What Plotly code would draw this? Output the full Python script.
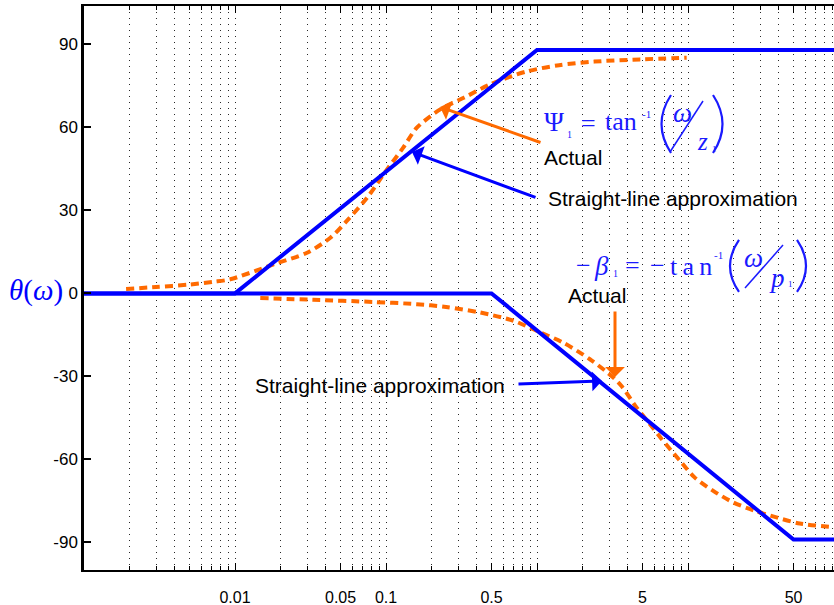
import plotly.graph_objects as go

# ---------------- data ----------------
approx_zero_w = [0.001, 0.01, 1, 100]
approx_zero_deg = [0, 0, 88, 88]
approx_pole_w = [0.001, 0.5, 50, 100]
approx_pole_deg = [0, 0, -89, -89]

actual_zero_w = [0.0019, 0.003, 0.005, 0.0072, 0.0093, 0.018, 0.030, 0.043, 0.055, 0.075,
                 0.10, 0.13, 0.16, 0.23, 0.33, 0.49, 0.85, 1.4, 2.4, 4.8, 9.8]
actual_zero_deg = [1.6, 2.3, 3.2, 4.2, 5.1, 10.5, 14.7, 20.2, 26.2, 34.6,
                   44.3, 52.7, 59.9, 66.6, 70.8, 75.6, 80.2, 82.5, 83.8, 84.6, 85.2]

actual_pole_w = [0.0147, 0.033, 0.082, 0.16, 0.25, 0.42, 0.70, 1.0, 1.49, 2.24, 3.2, 3.64,
                 4.57, 5.6, 6.7, 8.85, 11.1, 14.7, 20, 27.8, 39.7, 55, 95]
actual_pole_deg = [-1.7, -2.3, -3.1, -3.9, -4.9, -6.9, -9.9, -13.6, -17.8, -23.8, -30.4, -33.6,
                   -41.3, -47.3, -52.7, -60.5, -66.6, -71.4, -75.6, -78.6, -81.2, -83.2, -84.6]

x_tickvals = [0.01, 0.05, 0.1, 0.5, 1, 5, 10, 50]
x_ticktext = ["0.01", "0.05", "0.1", "0.5", "", "5", "", "50"]
y_tickvals = [90, 60, 30, 0, -30, -60, -90]
y_ticktext = ["90", "60", "30", "0", "-30", "-60", "-90"]
decades = [0.001, 0.01, 0.1, 1, 10]

# ---------------- layout geometry ----------------
W, H = 834, 605
L, T, R, B = 84, 6, 0, 35
PW, PH = W - L - R, H - T - B

BLUE = "#0000ff"
ORANGE = "#ff6a00"
EQ = "#1a1aff"
SANS = "Liberation Sans, Arial, sans-serif"
SERIF = "Liberation Serif, Times New Roman, serif"


def px(x):
    return (x - L) / PW


def py(y):
    return (H - B - y) / PH


fig = go.Figure()
fig.add_trace(go.Scatter(x=actual_zero_w, y=actual_zero_deg, mode="lines",
                         line=dict(color=ORANGE, width=4, dash="8px,5px", shape="spline", smoothing=0.8),
                         hoverinfo="skip"))
fig.add_trace(go.Scatter(x=actual_pole_w, y=actual_pole_deg, mode="lines",
                         line=dict(color=ORANGE, width=4, dash="8px,5px", shape="spline", smoothing=0.8),
                         hoverinfo="skip"))
fig.add_trace(go.Scatter(x=approx_zero_w, y=approx_zero_deg, mode="lines",
                         line=dict(color=BLUE, width=4), hoverinfo="skip"))
fig.add_trace(go.Scatter(x=approx_pole_w, y=approx_pole_deg, mode="lines",
                         line=dict(color=BLUE, width=4), hoverinfo="skip"))

minor_vals = [d * k for d in decades for k in range(2, 10)]

fig.update_xaxes(
    type="log", range=[-3, -3 + PW / 151.0],
    tickmode="array", tickvals=x_tickvals, ticktext=x_ticktext,
    ticks="inside", ticklen=7, tickwidth=1, tickcolor="black",
    showline=True, linecolor="black", linewidth=2, mirror="allticks",
    showgrid=True, gridcolor="rgb(40,40,40)", gridwidth=1, griddash="1px,5px",
    minor=dict(tickmode="array", tickvals=minor_vals, ticks="inside", ticklen=4,
               tickcolor="black", showgrid=True, gridcolor="rgb(40,40,40)",
               gridwidth=1, griddash="1px,5px"),
    tickfont=dict(family=SANS, size=16, color="black"),
    ticklabelstandoff=12, zeroline=False,
)
fig.update_yaxes(
    range=[-100, 103.9],
    tickmode="array", tickvals=y_tickvals, ticktext=y_ticktext,
    ticks="inside", ticklen=7, tickwidth=1.5, tickcolor="black",
    showline=True, linecolor="black", linewidth=2.5, mirror=False,
    showgrid=False, zeroline=False,
    tickfont=dict(family=SANS, size=17, color="black"),
    ticklabelstandoff=0,
)

ann = []


def text(x, y, s, size, color="black", family=SANS, xanchor="left"):
    ann.append(dict(x=px(x), y=py(y), xref="paper", yref="paper", text=s, showarrow=False,
                    xanchor=xanchor, yanchor="middle",
                    font=dict(family=family, size=size, color=color)))


def arrow(tip, tail, color):
    ann.append(dict(x=px(tip[0]), y=py(tip[1]), xref="paper", yref="paper", text="",
                    showarrow=True, axref="pixel", ayref="pixel",
                    ax=tail[0] - tip[0], ay=tail[1] - tip[1],
                    arrowhead=1, arrowsize=1.1, arrowwidth=3, arrowcolor=color, standoff=0))


# arrows
arrow((440, 107), (542, 143), ORANGE)
arrow((412, 152), (537, 198), BLUE)
arrow((615, 377), (615, 310), ORANGE)
arrow((602, 381), (517, 384), BLUE)

# text labels
text(542, 158, "Actual", 21)
text(546, 198, "Straight-line approximation", 21)
text(566, 295, "Actual", 21)
text(253, 385, "Straight-line approximation", 21)

# y-axis label θ(ω)
text(36, 291, "<i>θ</i>(<i>ω</i>)", 29, color=BLUE, family=SERIF, xanchor="center")

# equation 1 : Ψ1 = tan^-1 (ω / z1)
text(554, 122, "Ψ", 27, EQ, SERIF, "center")
text(569, 134, "1", 10, EQ, SERIF, "center")
text(588, 123, "=", 26, EQ, SERIF, "center")
text(621, 122, "tan", 26, EQ, SERIF, "center")
text(646, 114, "-1", 11, EQ, SERIF, "center")
text(682, 113, "<i>ω</i>", 27, EQ, SERIF, "center")
text(702, 141, "<i>z</i>", 25, EQ, SERIF, "center")
text(714, 149, "1", 9, EQ, SERIF, "center")

# equation 2 : -β1 = - tan^-1 (ω / p1)
text(583, 265, "−", 26, EQ, SERIF, "center")
text(601, 266, "<i>β</i>", 27, EQ, SERIF, "center")
text(615, 273, "1", 10, EQ, SERIF, "center")
text(632, 265, "=", 26, EQ, SERIF, "center")
text(657, 265, "−", 26, EQ, SERIF, "center")
text(691, 266, "t\u2009a\u2009n", 26, EQ, SERIF, "center")
text(718, 255, "-1", 11, EQ, SERIF, "center")
text(753, 258, "<i>ω</i>", 27, EQ, SERIF, "center")
text(777, 278, "<i>p</i>", 27, EQ, SERIF, "center")
text(790, 284, "1", 9, EQ, SERIF, "center")


def paren(x_end, y_top, y_bot, x_ctrl):
    return dict(type="path", xref="paper", yref="paper",
                path="M {:.5f},{:.5f} Q {:.5f},{:.5f} {:.5f},{:.5f}".format(
                    px(x_end), py(y_top), px(x_ctrl), py((y_top + y_bot) / 2), px(x_end), py(y_bot)),
                line=dict(color=EQ, width=2.2))


shapes = [
    dict(type="line", xref="paper", yref="paper", x0=px(670), y0=py(152), x1=px(703), y1=py(101),
         line=dict(color=EQ, width=1.5)),
    dict(type="line", xref="paper", yref="paper", x0=px(745), y0=py(288), x1=px(783), y1=py(245),
         line=dict(color=EQ, width=1.5)),
    paren(671, 95, 153, 652),
    paren(713, 95, 153, 732),
    paren(739, 240, 292, 721),
    paren(797, 240, 292, 815),
]

fig.update_layout(
    width=W, height=H, margin=dict(l=L, r=R, t=T, b=B),
    paper_bgcolor="white", plot_bgcolor="white",
    showlegend=False, annotations=ann, shapes=shapes,
)

fig.write_html("out.html")
